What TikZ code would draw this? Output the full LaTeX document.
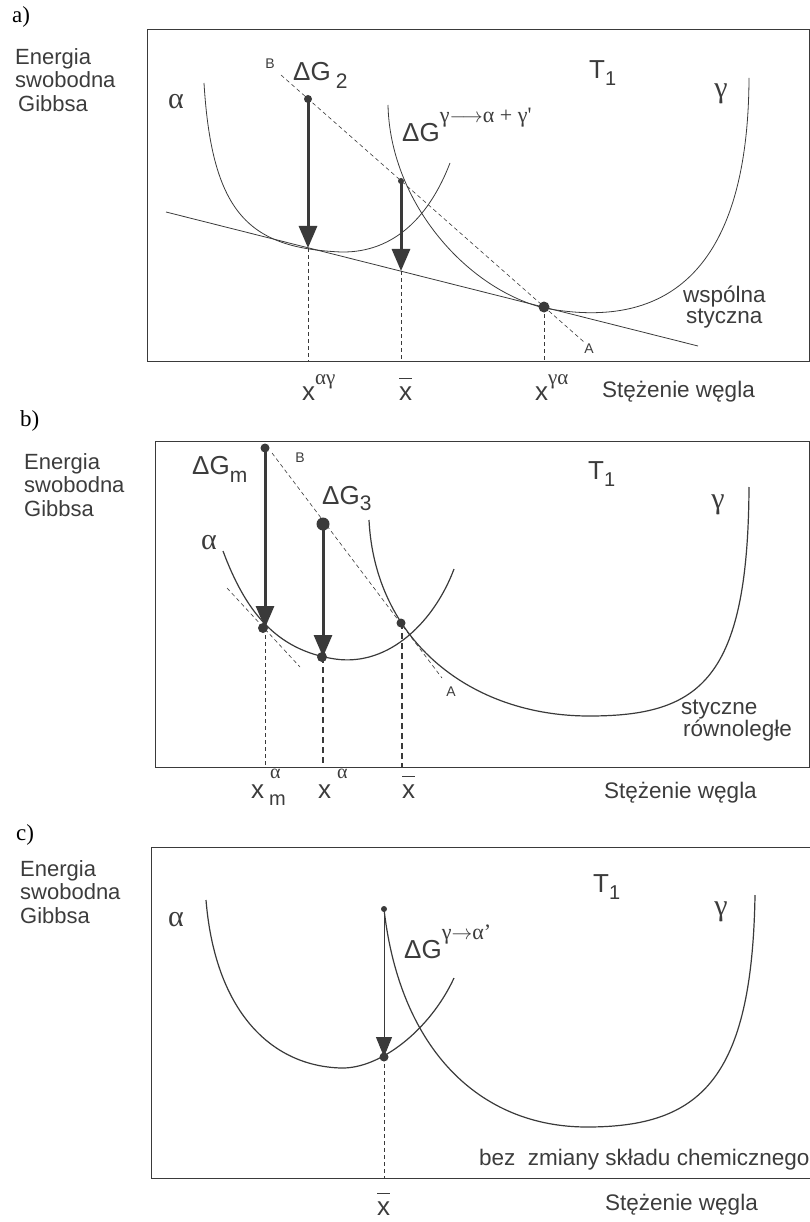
\documentclass[tikz,border=0pt]{standalone}
\usepackage{fontspec}
\setmainfont{Liberation Sans}
\newfontfamily\tms{Liberation Serif}
\usetikzlibrary{arrows.meta}
\definecolor{ink}{HTML}{3A3A3A}
\definecolor{txt}{HTML}{3C3C3C}
\newcommand{\setfs}[1]{\fontsize{#1}{#1}\selectfont}
\newcommand{\xbarlab}{\setbox0\hbox{x}\makebox[0pt][l]{\raisebox{21pt}{\rule{\wd0}{1pt}}}x}
\begin{document}
\begin{tikzpicture}[x=1pt,y=-1pt,
  frame/.style={draw=ink, line width=1pt},
  thincurve/.style={draw=ink, line width=0.8pt},
  curve/.style={draw=ink, line width=1.2pt},
  guide/.style={draw=ink, line width=0.6pt, dash pattern=on 4pt off 3pt},
  guidethick/.style={draw=ink, line width=1.5pt, dash pattern=on 6pt off 4pt},
  bigarrow/.style={draw=ink, line width=3pt, -{Triangle[width=18pt,length=22pt]}},
  thinarrow/.style={draw=ink, line width=1pt, -{Triangle[width=16pt,length=20pt]}},
  dot/.style={circle, fill=ink, draw=none, inner sep=0pt, minimum size=#1},
  lbl/.style={text=txt, inner sep=0pt, font=\setfs{22.5}},
  big/.style={text=txt, inner sep=0pt, font=\setfs{26}, anchor=base west},
  small/.style={text=txt, inner sep=0pt, font=\setfs{14}},
  greek/.style={text=txt, inner sep=0pt, font=\tms\setfs{30}},
  panel/.style={text=black, inner sep=0pt, font=\tms\setfs{23}},
  ylab/.style={text=txt, inner sep=0pt, font=\fontsize{22}{23.5}\selectfont, align=left, anchor=north west}
]
\useasboundingbox (0,0) rectangle (810,1222);

% ================= panel a =================
\node[panel, anchor=west] (pa) at (12,17) {a)};
\node[ylab] (ya) at (15,48) {Energia\\swobodna\\\hspace{3pt}Gibbsa};
\draw[frame] (147,30) rectangle (809,361);
\draw[thincurve] (204,83) .. controls (212,215) and (250,248) .. (341,252)
                 .. controls (395,253) and (430,215) .. (450,163);
\draw[thincurve] (388,105) .. controls (390,200) and (464,287.6) .. (544,308)
                 .. controls (620,322) and (748,320) .. (749,78);
\coordinate (ctl) at (166,212);
\coordinate (ctr) at (698,346);
\draw[thincurve] (ctl) -- (ctr);
\coordinate (Bend) at (281,75);
\coordinate (Aend) at (584,342);
\draw[guide] (Bend) -- (Aend);
\coordinate (a1) at (308,99);
\coordinate (a2) at (401,181);
\coordinate (a3) at (544,307);
\coordinate (t1) at (308,248);
\coordinate (t2) at (401,271);
\coordinate (b1) at (308,361);
\coordinate (b2) at (401,361);
\coordinate (b3) at (544,361);
\draw[guide] (t1) -- (b1);
\draw[guide] (t2) -- (b2);
\draw[guide] (a3) -- (b3);
\draw[bigarrow] (a1) -- (t1);
\draw[bigarrow] (a2) -- (t2);
\node[dot=8pt] (da1) at (a1) {};
\node[dot=6pt] (da2) at (a2) {};
\node[dot=11pt] (da3) at (a3) {};
\node[greek] (alpa) at (176,102) {α};
\node[greek] (gama) at (721,94) {γ};
\node[small] (Ba) at (270,64) {B};
\node[small] (Aa) at (589,349) {A};
\node[big] (dg2) at (293,81) {ΔG\hspace{5pt}\raisebox{-8pt}{\setfs{21}2}};
\node[big] (T1a) at (589,79) {T\raisebox{-7pt}{\setfs{20}1}};
\node[big] (dga) at (402,142) {ΔG\raisebox{19pt}{\tms\setfs{22}γ$\longrightarrow$α + γ'}};
\node[lbl, anchor=west] (wsp) at (683,297) {wspólna};
\node[lbl, anchor=west] (sty) at (686,319) {styczna};
\node[big] (xag) at (302,400) {x\raisebox{16pt}{\tms\setfs{21}αγ}};
\node[big] (xba) at (399,400) {\xbarlab};
\node[big] (xga) at (535,400) {x\raisebox{16pt}{\tms\setfs{21}γα}};
\node[lbl, anchor=west] (sta) at (602,392) {Stężenie węgla};

% ================= panel b =================
\node[panel, anchor=west] (pb) at (20,421) {b)};
\node[ylab] (yb) at (24,453) {Energia\\swobodna\\Gibbsa};
\draw[frame] (155,441) rectangle (809,767);
\draw[curve] (223,551) .. controls (245,610) and (275,650) .. (335,659)
             .. controls (390,667) and (435,620) .. (454,569);
\draw[curve] (369,520) .. controls (375,640) and (470,716) .. (589,716)
             .. controls (700,716) and (748,680) .. (749,487);
\coordinate (tl1) at (227,588);
\coordinate (tl2) at (300,667);
\draw[guide] (tl1) -- (tl2);
\coordinate (Bb) at (272,453);
\coordinate (Ab) at (442,678);
\draw[guide] (Bb) -- (Ab);
\coordinate (p1) at (265,448);
\coordinate (p2) at (323,524);
\coordinate (q1) at (265,628);
\coordinate (q2) at (323,657);
\coordinate (q3) at (401,623);
\coordinate (q3b) at (402,623);
\coordinate (r1) at (265,767);
\coordinate (r2) at (323,767);
\coordinate (r3) at (402,767);
\draw[guide] (q1) -- (r1);
\draw[guidethick] (q2) -- (r2);
\draw[guidethick] (q3b) -- (r3);
\draw[bigarrow] (p1) -- (q1);
\draw[bigarrow] (p2) -- (q2);
\node[dot=9pt] (dp1) at (p1) {};
\node[dot=13pt] (dp2) at (p2) {};
\node[dot=10pt] (dq1) at (263,628) {};
\node[dot=10pt] (dq2) at (322,657) {};
\node[dot=9pt] (dq3) at (q3) {};
\node[greek] (alpb) at (209,543) {α};
\node[greek] (gamb) at (718,505) {γ};
\node[small] (Bbl) at (300,458) {B};
\node[small] (Abl) at (451,692) {A};
\node[big] (dgm) at (192,474) {ΔG\raisebox{-8pt}{\setfs{21}m}};
\node[big] (dg3) at (322,504) {ΔG\raisebox{-6pt}{\setfs{21}3}};
\node[big] (T1b) at (588,479) {T\raisebox{-7pt}{\setfs{20}1}};
\node[lbl, anchor=west] (stb1) at (681,710) {styczne};
\node[lbl, anchor=west] (stb2) at (683,731) {równoległe};
\node[big] (xma) at (251,798) {x\hspace{5pt}\makebox[0pt][l]{\raisebox{20pt}{\tms\setfs{20}\hspace{1pt}α}}\raisebox{-7pt}{\setfs{20}m}};
\node[big] (xab) at (318,798) {x\hspace{6pt}\raisebox{20pt}{\tms\setfs{20}α}};
\node[big] (xbb) at (402,798) {\xbarlab};
\node[lbl, anchor=west] (stb) at (604,793) {Stężenie węgla};

% ================= panel c =================
\node[panel, anchor=west] (pc) at (16,835) {c)};
\node[ylab] (yc) at (20,860) {Energia\\swobodna\\Gibbsa};
\draw[frame] (151,847) -- (812,847);
\draw[frame] (151,847) -- (151,1178) -- (812,1178);
\draw[curve] (206,900) .. controls (215,1010) and (270,1066) .. (341,1068)
             .. controls (380,1069) and (430,1030) .. (454,978);
\draw[curve] (384,909) .. controls (400,1050) and (480,1127) .. (587,1127)
             .. controls (700,1127) and (752,1080) .. (755,895);
\coordinate (c1) at (384,909);
\coordinate (c2) at (384,1057);
\coordinate (c3) at (384,1178);
\draw[guide] (c2) -- (c3);
\draw[thinarrow] (c1) -- (c2);
\node[dot=6pt] (dc1) at (c1) {};
\node[dot=9pt] (dc2) at (c2) {};
\node[greek] (alpc) at (176,920) {α};
\node[greek] (gamc) at (721,912) {γ};
\node[big] (T1c) at (593,892) {T\raisebox{-7pt}{\setfs{20}1}};
\node[big] (dgc) at (404,958) {ΔG\raisebox{19pt}{\tms\setfs{22}γ$\rightarrow$α’}};
\node[lbl, anchor=west] (bez) at (479,1160) {bez~ zmiany składu chemicznego};
\node[big] (xbc) at (377,1215) {\xbarlab};
\node[lbl, anchor=west] (stc) at (605,1205) {Stężenie węgla};
\end{tikzpicture}
\end{document}
